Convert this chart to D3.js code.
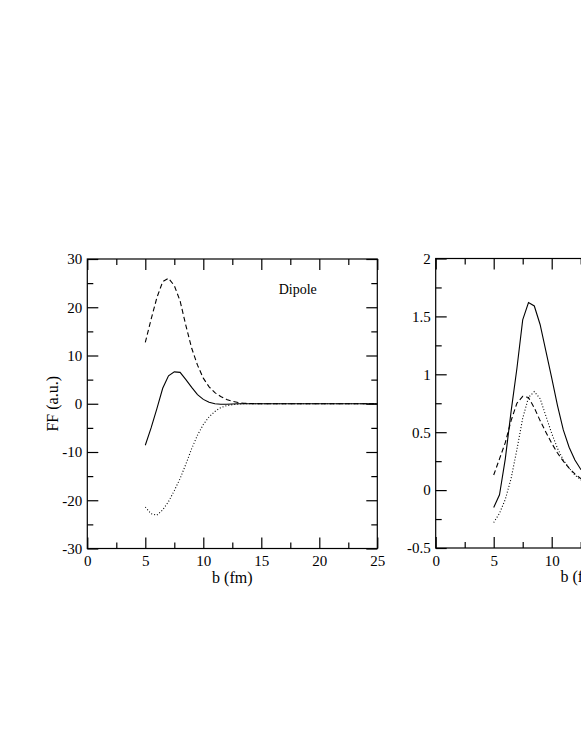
<!DOCTYPE html>
<html>
<head>
<meta charset="utf-8">
<script src="https://cdn.jsdelivr.net/npm/d3@7"></script>
<style>
  body { margin: 0; background: #fff; overflow: hidden; }
  svg { display: block; }
  text { font-family: "Liberation Serif", "Times New Roman", serif; fill: #000; }
</style>
</head>
<body>
<div id="chart"></div>
<script>
var W = 581, H = 752;
var serif = '"Liberation Serif", "Times New Roman", serif';

// impact parameter b (fm)
var bValues = [5, 5.5, 6, 6.5, 7, 7.5, 8, 8.5, 9, 9.5, 10, 10.5, 11, 11.5, 12, 12.5, 13, 13.5, 14,
  15, 16, 17, 18, 19, 20, 21, 22, 23, 24, 25];

// left panel (Dipole)
var dipoleSolid = [-8.6, -5, -1, 3.2, 5.8, 6.6, 6.5, 5, 3.4, 1.9, 0.9, 0.3, 0, -0.1, -0.1, -0.05, 0, 0, 0,
  0, 0, 0, 0, 0, 0, 0, 0, 0, 0, 0];
var dipoleDashed = [12.7, 17.5, 22, 25.3, 26, 24.5, 21.3, 16.2, 11.5, 8, 5.3, 3.5, 2.3, 1.5, 0.9, 0.5, 0.25, 0.1, 0.05,
  0, 0, 0, 0, 0, 0, 0, 0, 0, 0, 0];
var dipoleDotted = [-21.4, -22.8, -23.1, -22, -20.3, -18, -15.5, -12.5, -9.3, -6.5, -4.3, -2.7, -1.6, -0.8, -0.4, -0.2, -0.1, 0, 0,
  0, 0, 0, 0, 0, 0, 0, 0, 0, 0, 0];

// right panel
var rightSolid = [-0.15, -0.04, 0.27, 0.68, 1.05, 1.47, 1.62, 1.59, 1.43, 1.2, 0.97, 0.73, 0.52, 0.37, 0.26, 0.18, 0.13, 0.09, 0.06,
  0.03, 0.015, 0.008, 0.004, 0.002, 0.001, 0, 0, 0, 0, 0];
var rightDashed = [0.13, 0.27, 0.41, 0.6, 0.75, 0.81, 0.8, 0.71, 0.6, 0.5, 0.405, 0.32, 0.25, 0.19, 0.14, 0.1, 0.07, 0.05, 0.035,
  0.018, 0.009, 0.005, 0.003, 0.002, 0.001, 0, 0, 0, 0, 0];
var rightDotted = [-0.28, -0.2, -0.08, 0.1, 0.35, 0.62, 0.8, 0.85, 0.79, 0.64, 0.49, 0.36, 0.26, 0.19, 0.13, 0.09, 0.06, 0.04, 0.03,
  0.015, 0.008, 0.004, 0.002, 0.001, 0, 0, 0, 0, 0, 0];

var xTicks = [0, 5, 10, 15, 20, 25];
var xMinor = [2.5, 7.5, 12.5, 17.5, 22.5];
var leftYTicks = [-30, -20, -10, 0, 10, 20, 30];
var leftYMinor = [-25, -15, -5, 5, 15, 25];
var rightYTicks = [-0.5, 0, 0.5, 1, 1.5, 2];
var rightYMinor = [-0.25, 0.25, 0.75, 1.25, 1.75];

var svg = d3.select("#chart").append("svg")
  .attr("width", W)
  .attr("height", H);

var pw = 290, ph = 289.5;

function panel(x0, y0, yDomain, yTicks, yMinor, series, opts) {
  var g = svg.append("g").attr("transform", "translate(" + x0 + "," + y0 + ")");
  var x = d3.scaleLinear().domain([0, 25]).range([0, pw]);
  var y = d3.scaleLinear().domain(yDomain).range([ph, 0]);

  var line = d3.line()
    .x(function(d) { return x(d[0]); })
    .y(function(d) { return y(d[1]); });

  var styles = [
    { dash: null },
    { dash: "5,3" },
    { dash: "1,2" }
  ];
  series.forEach(function(s, i) {
    g.append("path")
      .datum(bValues.map(function(b, j) { return [b, s[j]]; }))
      .attr("d", line)
      .attr("fill", "none")
      .attr("stroke", "#000")
      .attr("stroke-width", 1.1)
      .attr("stroke-dasharray", styles[i].dash);
  });

  // ticks, pointing inward on all four sides
  function addAxis(axisFn, scale, ticks, size, transform, fmt) {
    var a = g.append("g")
      .attr("transform", transform)
      .call(axisFn(scale).tickValues(ticks).tickSize(-size).tickPadding(fmt ? 6 : 0)
        .tickFormat(fmt || function() { return ""; }));
    a.attr("font-family", serif);
    a.select(".domain").remove();
    a.selectAll("line").attr("stroke", "#000").attr("stroke-width", 1.2);
    a.selectAll("text").style("font-size", "15px").style("font-family", serif).attr("fill", "#000");
    return a;
  }
  var fmtX = d3.format("d");
  var fmtY = function(d) { return String(d); };

  var bx = addAxis(d3.axisBottom, x, xTicks, 11, "translate(0," + ph + ")", fmtX);
  bx.selectAll("text").attr("y", 7);
  addAxis(d3.axisBottom, x, xMinor, 6, "translate(0," + ph + ")");
  addAxis(d3.axisTop, x, xTicks, 11, "translate(0,0)");
  addAxis(d3.axisTop, x, xMinor, 6, "translate(0,0)");
  var ly = addAxis(d3.axisLeft, y, yTicks, 11, "translate(0,0)", fmtY);
  ly.selectAll("text").attr("x", -5);
  addAxis(d3.axisLeft, y, yMinor, 6, "translate(0,0)");
  addAxis(d3.axisRight, y, yTicks, 11, "translate(" + pw + ",0)");
  addAxis(d3.axisRight, y, yMinor, 6, "translate(" + pw + ",0)");

  g.append("rect")
    .attr("width", pw)
    .attr("height", ph)
    .attr("fill", "none")
    .attr("stroke", "#000")
    .attr("stroke-width", 1.2);

  g.append("text")
    .attr("x", pw / 2)
    .attr("y", ph + 34)
    .attr("text-anchor", "middle")
    .style("font-size", "16px")
    .text("b (fm)");

  if (opts.ylabel) {
    g.append("text")
      .attr("transform", "translate(" + (-29) + "," + (ph / 2) + ") rotate(-90)")
      .attr("text-anchor", "middle")
      .style("font-size", "16px")
      .text(opts.ylabel);
  }
  if (opts.title) {
    g.append("text")
      .attr("x", x(opts.title[0]))
      .attr("y", y(opts.title[1]))
      .style("font-size", "14px")
      .text(opts.title[2]);
  }
}

panel(87.3, 259, [-30, 30], leftYTicks, leftYMinor,
  [dipoleSolid, dipoleDashed, dipoleDotted],
  { ylabel: "FF (a.u.)", title: [16.5, 22.8, "Dipole"] });

panel(435.7, 258.5, [-0.5, 2], rightYTicks, rightYMinor,
  [rightSolid, rightDashed, rightDotted], {});
</script>
</body>
</html>
